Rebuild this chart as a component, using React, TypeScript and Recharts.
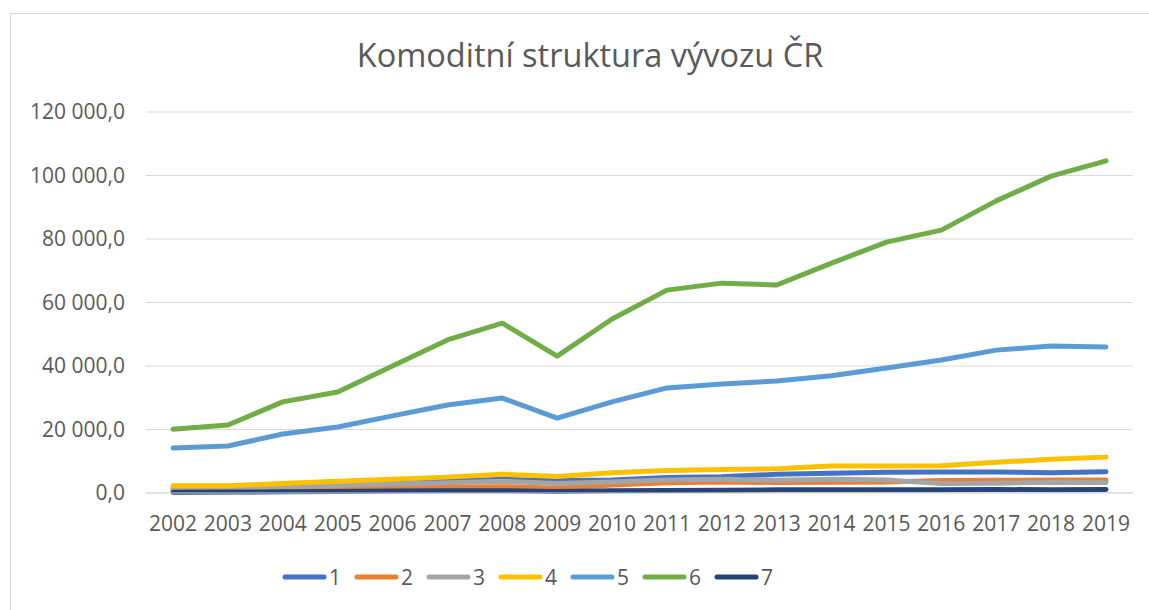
import React from 'react';
import { LineChart, Line, XAxis, YAxis, CartesianGrid, Legend } from 'recharts';

// Roky a hodnoty
const years = ['2002', '2003', '2004', '2005', '2006', '2007', '2008', '2009', '2010', '2011', '2012', '2013', '2014', '2015', '2016', '2017', '2018', '2019'];

const s1 = [1500, 1700, 2200, 2700, 3200, 3700, 4300, 3900, 4100, 4900, 5100, 5900, 6200, 6500, 6600, 6600, 6400, 6700];
const s2 = [800, 900, 1100, 1300, 1500, 1800, 2000, 1500, 2500, 3200, 3500, 3300, 3400, 3500, 3900, 4000, 4100, 4100];
const s3 = [1400, 1600, 2000, 2400, 2800, 3200, 3700, 3000, 3500, 4100, 4300, 4000, 4300, 4100, 3000, 3100, 3400, 3300];
const s4 = [2300, 2300, 3000, 3700, 4300, 5000, 5900, 5200, 6400, 7100, 7400, 7600, 8500, 8500, 8600, 9700, 10600, 11300];
const s5 = [14200, 14800, 18600, 20800, 24300, 27700, 29900, 23600, 28700, 33100, 34300, 35300, 36900, 39400, 41900, 45000, 46300, 46000];
const s6 = [20100, 21400, 28700, 31800, 40000, 48200, 53500, 43100, 54800, 63900, 66100, 65500, 72400, 79000, 82800, 92000, 99800, 104600];
const s7 = [200, 300, 400, 500, 600, 700, 700, 500, 700, 800, 900, 1000, 1000, 1000, 1000, 1100, 1000, 1100];

const yTicks = [0, 20000, 40000, 60000, 80000, 100000, 120000];

const series = [
  { key: 's1', name: '1', color: '#4472C4' },
  { key: 's2', name: '2', color: '#ED7D31' },
  { key: 's3', name: '3', color: '#A5A5A5' },
  { key: 's4', name: '4', color: '#FFC000' },
  { key: 's5', name: '5', color: '#5B9BD5' },
  { key: 's6', name: '6', color: '#70AD47' },
  { key: 's7', name: '7', color: '#264478' },
];

const data = years.map((y, i) => ({
  year: y,
  s1: s1[i], s2: s2[i], s3: s3[i], s4: s4[i], s5: s5[i], s6: s6[i], s7: s7[i],
}));

const FONT = '"Open Sans", sans-serif';
const TEXT = '#595959';

const fmt = (v: number) => {
  const s = Math.round(v).toString().replace(/\B(?=(\d{3})+(?!\d))/g, ' ');
  return `${s},0`;
};

const LegendContent = () => (
  <div style={{ display: 'flex', fontFamily: FONT, fontSize: 21, color: TEXT, lineHeight: '26px' }}>
    {series.map((s) => (
      <div key={s.key} style={{ display: 'flex', alignItems: 'center', width: 72 }}>
        <svg width={45} height={10}>
          <line x1={3} y1={5} x2={42} y2={5} stroke={s.color} strokeWidth={5} strokeLinecap="round" />
        </svg>
        <span style={{ marginLeft: 2 }}>{s.name}</span>
      </div>
    ))}
  </div>
);

export default function App() {
  return (
    <div style={{ position: 'absolute', left: 0, top: 0, width: 1149, height: 610, background: '#fff', overflow: 'hidden' }}>
      <div style={{ position: 'absolute', left: 10, top: 13, width: 1160, height: 620, border: '1px solid #d9d9d9' }} />
      <div style={{ position: 'absolute', left: 0, top: 32, width: 1180, textAlign: 'center', fontFamily: FONT, fontSize: 32.5, color: TEXT }}>
        Komoditní struktura vývozu ČR
      </div>
      <LineChart width={1149} height={610} data={data} margin={{ top: 112, right: 16, bottom: 31, left: 0 }}>
        <CartesianGrid vertical={false} stroke="#d9d9d9" strokeWidth={1} />
        <XAxis
          dataKey="year"
          height={60}
          padding={{ left: 27, right: 27 }}
          axisLine={{ stroke: '#d9d9d9' }}
          tickLine={false}
          tickSize={0}
          tickMargin={23}
          interval={0}
          tick={{ fill: TEXT, fontSize: 21, fontFamily: FONT }}
        />
        <YAxis
          width={146}
          domain={[0, 120000]}
          ticks={yTicks}
          tickFormatter={fmt}
          axisLine={false}
          tickLine={false}
          tickSize={0}
          tickMargin={21}
          tick={{ fill: TEXT, fontSize: 21, fontFamily: FONT }}
        />
        <Legend
          content={<LegendContent />}
          wrapperStyle={{ position: 'absolute', left: 282, top: 564, width: 520 }}
        />
        {series.map((s) => (
          <Line
            key={s.key}
            dataKey={s.key}
            name={s.name}
            stroke={s.color}
            strokeWidth={5}
            strokeLinecap="round"
            strokeLinejoin="round"
            dot={false}
            type="linear"
            isAnimationActive={false}
          />
        ))}
      </LineChart>
    </div>
  );
}
